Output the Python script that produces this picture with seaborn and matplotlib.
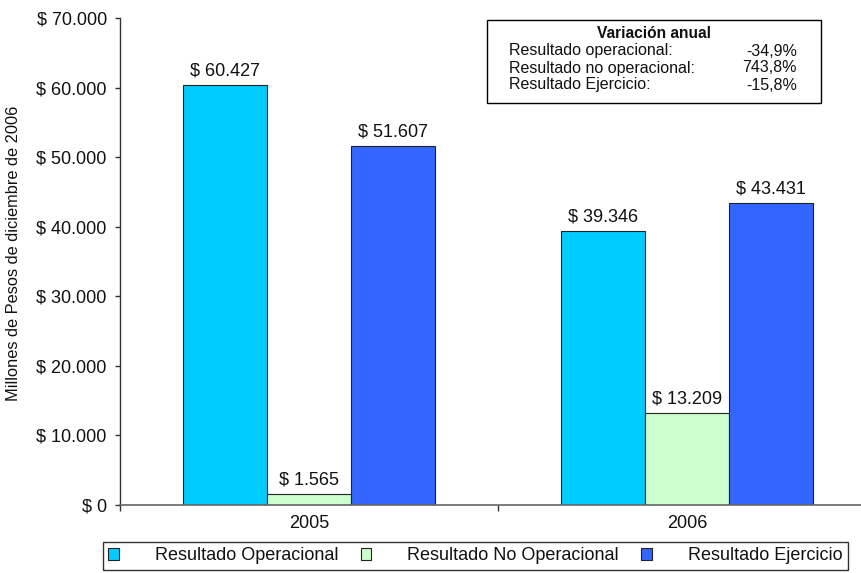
import matplotlib
matplotlib.use("Agg")
import matplotlib.pyplot as plt
import seaborn as sns
import pandas as pd
from matplotlib.ticker import FuncFormatter, FixedLocator
from matplotlib.patches import Rectangle, Patch

years = ["2005", "2006"]
series = ["Resultado Operacional", "Resultado No Operacional", "Resultado Ejercicio"]
operacional = [60427, 39346]
no_operacional = [1565, 13209]
ejercicio = [51607, 43431]
colors = ["#00CCFF", "#CCFFCC", "#3366FF"]
variacion_labels = ["Resultado operacional:", "Resultado no operacional:", "Resultado Ejercicio:"]
variacion_values = ["-34,9%", "743,8%", "-15,8%"]

rows = []
for s, vals in zip(series, [operacional, no_operacional, ejercicio]):
    for y, v in zip(years, vals):
        rows.append({"year": y, "serie": s, "value": v})
df = pd.DataFrame(rows)

sns.set_theme(style="white")
plt.rcParams["font.family"] = ["Liberation Sans", "DejaVu Sans"]

W, H = 862, 573
fig = plt.figure(figsize=(W / 100, H / 100), dpi=100)
ax = fig.add_axes([120 / W, 1 - 505 / H, 756 / W, (505 - 18) / H])

sns.barplot(data=df, x="year", y="value", hue="serie", palette=colors,
            hue_order=series, order=years, width=2 / 3, saturation=1,
            edgecolor="#222222", linewidth=0.8, ax=ax, legend=False)

def money(v, pos=None):
    return "$ " + f"{v:,.0f}".replace(",", ".")

for cont in ax.containers:
    ax.bar_label(cont, labels=[money(b.get_height()) for b in cont], padding=4,
                 fontsize=13, color="#111111")

ax.set_ylim(0, 70000)
ax.set_xlim(-0.5, 1.5)
ax.yaxis.set_major_locator(FixedLocator(list(range(0, 70001, 10000))))
ax.yaxis.set_major_formatter(FuncFormatter(money))
ax.tick_params(axis="y", which="major", direction="out", length=3.5, width=1,
               color="#333333", labelsize=13, pad=6, left=True, labelcolor="#111111")
ax.set_xticks([0, 1])
ax.set_xticklabels(years)
ax.tick_params(axis="x", which="major", length=0, labelsize=13, pad=7, labelcolor="#111111")
ax.set_xticks([-0.5, 0.5, 1.5], minor=True)
ax.tick_params(axis="x", which="minor", direction="out", length=4, width=1, color="#333333", bottom=True)
ax.set_xlabel("")
ax.set_ylabel("")
for sp in ["top", "right"]:
    ax.spines[sp].set_visible(False)
ax.spines["left"].set_color("#333333")
ax.spines["left"].set_linewidth(1)
ax.spines["bottom"].set_color("#666666")
ax.spines["bottom"].set_linewidth(1.2)

fig.text(14 / W, 1 - 253 / H, "Millones de Pesos de diciembre de 2006", rotation=90,
         ha="center", va="center", fontsize=11.8, color="#111111")

# Variation box
x0, x1, y0, y1 = 487, 821, 20, 103
fig.patches.append(Rectangle((x0 / W, 1 - y1 / H), (x1 - x0) / W, (y1 - y0) / H,
                             transform=fig.transFigure, facecolor="white",
                             edgecolor="black", linewidth=1))
fig.text(654 / W, 1 - 33 / H, "Variación anual", ha="center", va="center",
         fontsize=11.2, fontweight="bold", color="#111111")
for i, (lab, val) in enumerate(zip(variacion_labels, variacion_values)):
    yy = 1 - (51 + 17 * i) / H
    fig.text(509 / W, yy, lab, ha="left", va="center", fontsize=11.5, color="#111111")
    fig.text(797 / W, yy, val, ha="right", va="center", fontsize=11.5, color="#111111")

handles = [Patch(facecolor=c, edgecolor="#222222", linewidth=0.8) for c in colors]
leg = fig.legend(handles, series, loc="upper left", bbox_to_anchor=(103 / W, 1 - 542 / H),
                 ncol=3, frameon=True, fancybox=False, fontsize=13,
                 handlelength=0.6, handleheight=0.6, handletextpad=2.0,
                 columnspacing=1.2, borderpad=0.3, borderaxespad=0)
leg.get_frame().set_edgecolor("black")
leg.get_frame().set_linewidth(1)
for t in leg.get_texts():
    t.set_color("#111111")

fig.savefig("out.png", dpi=100)
